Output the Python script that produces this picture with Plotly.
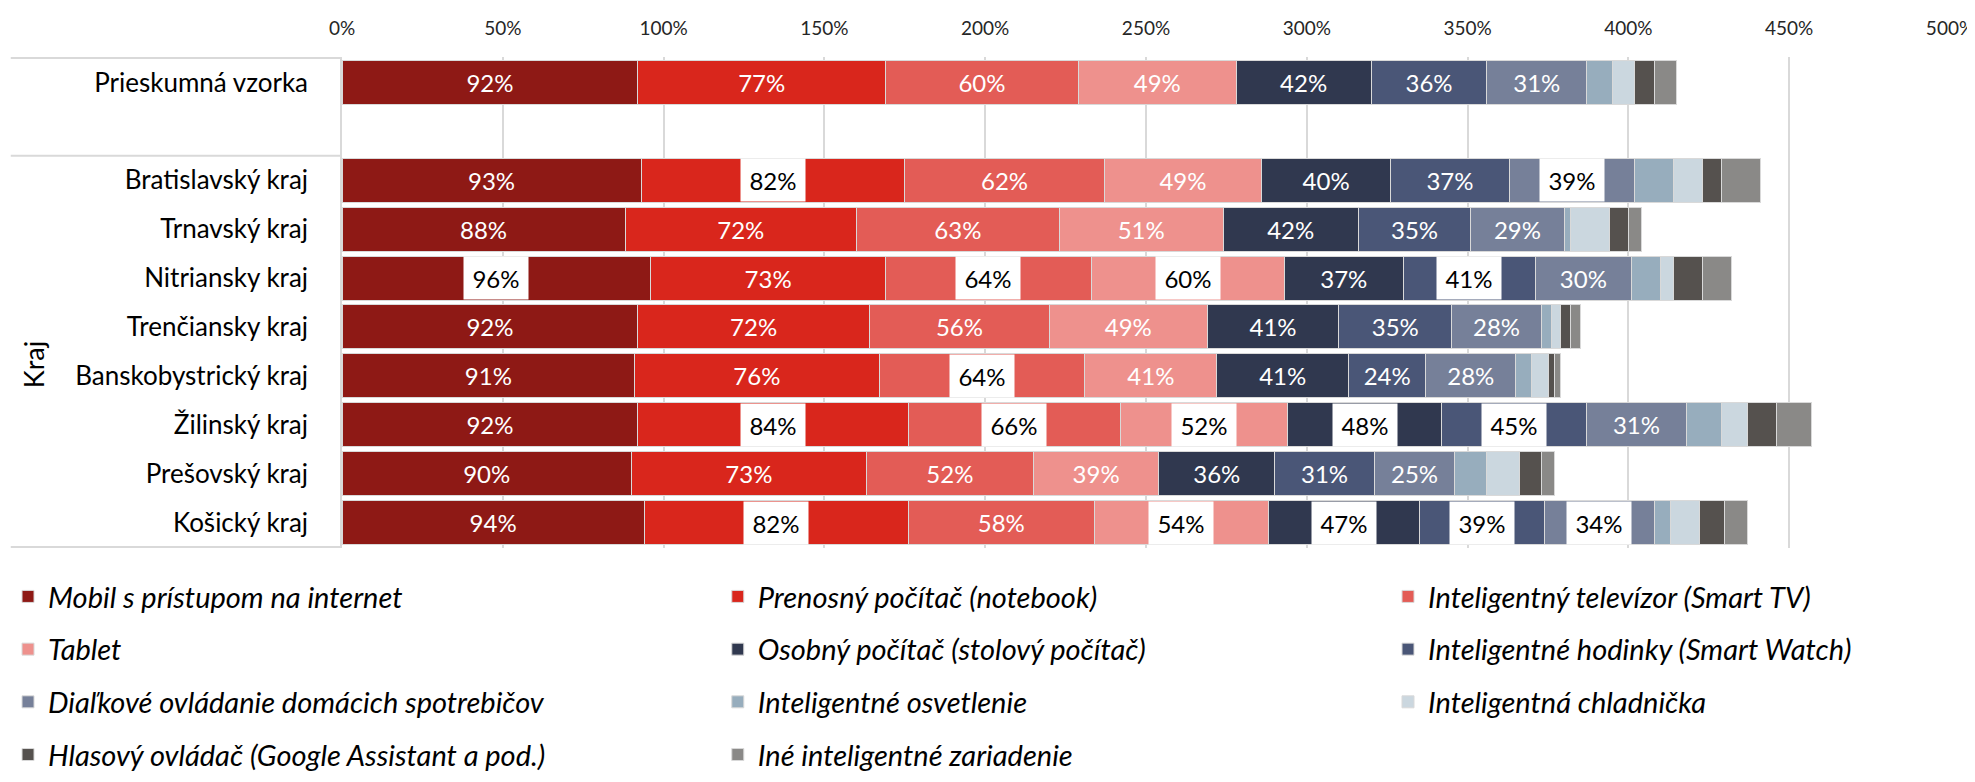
import plotly.graph_objects as go

FONT = "Lato, 'Noto Sans', sans-serif"

categories = ["Prieskumná vzorka", "Bratislavský kraj", "Trnavský kraj", "Nitriansky kraj",
              "Trenčiansky kraj", "Banskobystrický kraj", "Žilinský kraj", "Prešovský kraj",
              "Košický kraj"]

series_names = ["Mobil s prístupom na internet", "Prenosný počítač (notebook)",
                "Inteligentný televízor (Smart TV)", "Tablet",
                "Osobný počítač (stolový počítač)", "Inteligentné hodinky (Smart Watch)",
                "Diaľkové ovládanie domácich spotrebičov", "Inteligentné osvetlenie",
                "Inteligentná chladnička", "Hlasový ovládač (Google Assistant a pod.)",
                "Iné inteligentné zariadenie"]

colors = ["#8e1915", "#d9261c", "#e35c56", "#ee918d", "#30384f", "#4a5677",
          "#768099", "#97adbd", "#cbd7df", "#55514e", "#8a8987"]

mobil = [92, 93, 88, 96, 92, 91, 92, 90, 94]
notebook = [77, 82, 72, 73, 72, 76, 84, 73, 82]
smart_tv = [60, 62, 63, 64, 56, 64, 66, 52, 58]
tablet = [49, 49, 51, 60, 49, 41, 52, 39, 54]
stolovy_pc = [42, 40, 42, 37, 41, 41, 48, 36, 47]
hodinky = [36, 37, 35, 41, 35, 24, 45, 31, 39]
ovladanie = [31, 39, 29, 30, 28, 28, 31, 25, 34]
osvetlenie = [8, 12, 2, 9, 3, 5, 11, 10, 5]
chladnicka = [7, 9, 12, 4, 3, 5, 8, 10, 9]
hlasovy = [6, 6, 6, 9, 3, 2, 9, 7, 8]
ine = [7, 12, 4, 9, 3, 2, 11, 4, 7]

# 1 = label shown in a white box (only the first seven series carry labels)
box_mobil = [0, 0, 0, 1, 0, 0, 0, 0, 0]
box_notebook = [0, 1, 0, 0, 0, 0, 1, 0, 1]
box_smart_tv = [0, 0, 0, 1, 0, 1, 1, 0, 0]
box_tablet = [0, 0, 0, 1, 0, 0, 1, 0, 1]
box_stolovy_pc = [0, 0, 0, 0, 0, 0, 1, 0, 1]
box_hodinky = [0, 0, 0, 1, 0, 0, 1, 0, 1]
box_ovladanie = [0, 1, 0, 0, 0, 0, 0, 0, 1]

values = [mobil, notebook, smart_tv, tablet, stolovy_pc, hodinky, ovladanie,
          osvetlenie, chladnicka, hlasovy, ine]
boxes = [box_mobil, box_notebook, box_smart_tv, box_tablet, box_stolovy_pc,
         box_hodinky, box_ovladanie]

y_order = [categories[0], " "] + categories[1:]
legends = ["legend", "legend2", "legend3"]

fig = go.Figure()
base = [0] * len(categories)
for i, (name, vals, col) in enumerate(zip(series_names, values, colors)):
    labelled = i < len(boxes)
    flags = boxes[i] if labelled else [0] * len(vals)
    text = [f"{v}%" if labelled and not f else "" for v, f in zip(vals, flags)]
    fig.add_trace(go.Bar(
        y=categories, x=vals, orientation="h", name=name,
        marker=dict(color=col, line=dict(color="#d9d9d9", width=1)),
        text=text, textposition="inside", insidetextanchor="middle", textangle=0,
        textfont=dict(color="white", size=24, family=FONT),
        legend=legends[i % 3], legendgroup=name, hoverinfo="skip",
    ))
    for c, v, f, b in zip(categories, vals, flags, base):
        if f:
            fig.add_annotation(x=b + v / 2, y=c, text=f"{v}%", showarrow=False,
                               bgcolor="white", width=60, height=38, borderpad=2,
                               font=dict(color="black", size=24, family=FONT))
    base = [b + v for b, v in zip(base, vals)]

# category separators on the left
for yv in [-0.5, 1.5, 9.5]:
    fig.add_shape(type="line", xref="paper", yref="y", x0=-0.206, x1=0, y0=yv, y1=yv,
                  line=dict(color="#d9d9d9", width=2))

fig.add_annotation(text="Kraj", xref="paper", yref="paper", x=-0.2036, y=0.3725,
                   textangle=-90, showarrow=False, font=dict(size=27, family=FONT, color="black"))

leg = dict(orientation="v", yanchor="top", y=-0.047, xanchor="left", traceorder="grouped",
           tracegroupgap=12, bgcolor="rgba(0,0,0,0)",
           font=dict(size=29, family=FONT, color="black", style="italic"))

# the page puts the figure 8px from the window corner
fig.update_layout(
    width=1967, height=766,
    barmode="stack", bargap=0.1,
    margin=dict(l=334, r=25, t=48.5, b=226, autoexpand=False),
    plot_bgcolor="white", paper_bgcolor="white",
    font=dict(family=FONT, color="black"),
    showlegend=True,
    legend=dict(leg, x=-0.2077),
    legend2=dict(leg, x=0.2337),
    legend3=dict(leg, x=0.6505),
    xaxis=dict(side="top", range=[0, 500], dtick=50, ticksuffix="%",
               showgrid=True, gridcolor="#d9d9d9", gridwidth=1.5, zeroline=False,
               tickfont=dict(size=19, color="#262626"), ticks="", ticklabelstandoff=17,
               ticklabeloverflow="allow", automargin=False),
    yaxis=dict(categoryorder="array", categoryarray=y_order, autorange="reversed",
               showline=True, linecolor="#d9d9d9", linewidth=1.5, ticks="",
               ticklabelstandoff=27, tickfont=dict(size=26, color="black"),
               automargin=False),
)

fig.write_html("out.html")
